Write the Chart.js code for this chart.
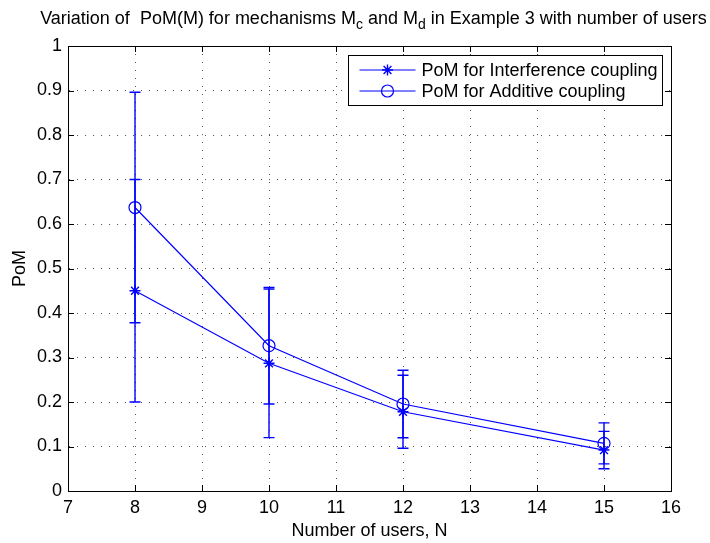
<!DOCTYPE html>
<html lang="en">
<head>
    <meta charset="UTF-8">
    <title>PoM vs number of users</title>
    <script src="https://cdn.jsdelivr.net/npm/chart.js"></script>
    <style>
        html, body {
            margin: 0;
            padding: 0;
            background: #fff;
        }
        .chart-container {
            width: 710px;
            height: 543px;
        }
    </style>
</head>
<body>

    <div class="chart-container">
        <canvas id="pomChart"></canvas>
    </div>

    <script>
        // values
        const users = [8, 10, 12, 15];
        const pomInterference = [0.45, 0.287, 0.178, 0.092];
        const errInterference = [0.25, 0.167, 0.082, 0.042];
        const pomAdditive = [0.637, 0.3265, 0.1955, 0.107];
        const errAdditive = [0.259, 0.131, 0.076, 0.046];

        const seriesLabels = ["PoM for Interference coupling", "PoM for Additive coupling"];
        const xTicks = [7, 8, 9, 10, 11, 12, 13, 14, 15, 16];
        const yTicks = [0, 0.1, 0.2, 0.3, 0.4, 0.5, 0.6, 0.7, 0.8, 0.9, 1];

        const BLUE = "#0000ff";
        const FONT = "'Liberation Sans', Arial, sans-serif";
        const FSIZE = 18;

        function toPoints(ys) {
            return users.map((u, i) => ({ x: u, y: ys[i] }));
        }

        // matlab style box, inner ticks, error bars, legend and title
        const matlabPlugin = {
            id: "matlabStyle",
            beforeDatasetsDraw(chart) {
                const { ctx, chartArea: a, scales } = chart;
                ctx.save();
                ctx.strokeStyle = "#000";
                ctx.lineWidth = 1;
                ctx.beginPath();
                xTicks.forEach(v => {
                    const px = Math.round(scales.x.getPixelForValue(v)) + 0.5;
                    ctx.moveTo(px, a.bottom); ctx.lineTo(px, a.bottom - 6);
                    ctx.moveTo(px, a.top); ctx.lineTo(px, a.top + 6);
                });
                yTicks.forEach(v => {
                    const py = Math.round(scales.y.getPixelForValue(v)) + 0.5;
                    ctx.moveTo(a.left, py); ctx.lineTo(a.left + 6, py);
                    ctx.moveTo(a.right, py); ctx.lineTo(a.right - 6, py);
                });
                ctx.stroke();
                ctx.strokeRect(Math.round(a.left) + 0.5, Math.round(a.top) + 0.5,
                    Math.round(a.right - a.left), Math.round(a.bottom - a.top));
                ctx.restore();
            },
            afterDatasetsDraw(chart) {
                const { ctx, scales } = chart;
                const bars = [[pomInterference, errInterference], [pomAdditive, errAdditive]];
                ctx.save();
                ctx.setLineDash([]);
                ctx.lineWidth = 1.4;
                ctx.strokeStyle = BLUE;
                bars.forEach(([vals, errs]) => {
                    users.forEach((u, i) => {
                        const px = Math.round(scales.x.getPixelForValue(u));
                        const lo = scales.y.getPixelForValue(vals[i] - errs[i]);
                        const hi = scales.y.getPixelForValue(vals[i] + errs[i]);
                        ctx.beginPath();
                        ctx.moveTo(px, lo); ctx.lineTo(px, hi);
                        ctx.moveTo(px - 5.5, lo); ctx.lineTo(px + 5.5, lo);
                        ctx.moveTo(px - 5.5, hi); ctx.lineTo(px + 5.5, hi);
                        ctx.stroke();
                    });
                });
                ctx.restore();
            },
            afterDraw(chart) {
                const { ctx, chartArea: a } = chart;
                ctx.save();

                // legend box in the upper right corner
                ctx.font = FSIZE + "px " + FONT;
                const textW = Math.max(...seriesLabels.map(t => ctx.measureText(t).width));
                const boxW = Math.round(11 + 56 + 6 + textW + 5);
                const boxH = 50;
                const bx = Math.round(a.right - 9 - boxW) + 0.5;
                const by = Math.round(a.top + 9) + 0.5;
                ctx.fillStyle = "#fff";
                ctx.fillRect(bx, by, boxW, boxH);
                ctx.strokeStyle = "#000";
                ctx.lineWidth = 1;
                ctx.strokeRect(bx, by, boxW, boxH);
                ctx.textBaseline = "middle";
                chart.data.datasets.forEach((ds, i) => {
                    const ry = Math.round(by + 14 + i * 21);
                    ctx.lineWidth = 1.2;
                    ctx.beginPath();
                    ctx.moveTo(bx + 11, ry); ctx.lineTo(bx + 67, ry);
                    ctx.strokeStyle = BLUE;
                    ctx.stroke();
                    ctx.strokeStyle = ds.pointBorderColor;
                    ctx.fillStyle = ds.pointBackgroundColor;
                    ctx.lineWidth = ds.pointBorderWidth;
                    Chart.helpers.drawPoint(ctx, {
                        pointStyle: ds.pointStyle,
                        radius: ds.pointRadius,
                        rotation: 0,
                        borderWidth: ds.pointBorderWidth
                    }, bx + 39, ry);
                    ctx.fillStyle = "#000";
                    ctx.fillText(ds.label, bx + 73, ry + 1);
                });

                // title with subscripts
                const parts = [
                    ["Variation of  PoM(M) for mechanisms M", false],
                    ["c", true],
                    [" and M", false],
                    ["d", true],
                    [" in Example 3 with number of users", false]
                ];
                const mainFont = FSIZE + "px " + FONT;
                const subFont = (FSIZE - 4) + "px " + FONT;
                ctx.textBaseline = "alphabetic";
                ctx.textAlign = "left";
                let total = 0;
                parts.forEach(([t, sub]) => {
                    ctx.font = sub ? subFont : mainFont;
                    total += ctx.measureText(t).width;
                });
                let tx = (a.left + a.right) / 2 + 4 - total / 2;
                const ty = 24;
                ctx.fillStyle = "#000";
                parts.forEach(([t, sub]) => {
                    ctx.font = sub ? subFont : mainFont;
                    ctx.fillText(t, tx, sub ? ty + 5 : ty);
                    tx += ctx.measureText(t).width;
                });
                ctx.restore();
            }
        };

        const ctx = document.getElementById("pomChart").getContext("2d");
        const chartInstance = new Chart(ctx, {
            type: "line",
            data: {
                datasets: [{
                    label: seriesLabels[0],
                    data: toPoints(pomInterference),
                    borderColor: BLUE,
                    borderWidth: 1.2,
                    pointStyle: "star",
                    pointRadius: 5.5,
                    pointBorderColor: BLUE,
                    pointBackgroundColor: BLUE,
                    pointBorderWidth: 1.4,
                    tension: 0
                }, {
                    label: seriesLabels[1],
                    data: toPoints(pomAdditive),
                    borderColor: BLUE,
                    borderWidth: 1.2,
                    pointStyle: "circle",
                    pointRadius: 6,
                    pointBorderColor: BLUE,
                    pointBackgroundColor: "rgba(0,0,0,0)",
                    pointBorderWidth: 1.2,
                    tension: 0
                }]
            },
            options: {
                responsive: true,
                maintainAspectRatio: false,
                animation: false,
                layout: {
                    padding: { top: 46, right: 39, left: 0, bottom: 0 }
                },
                plugins: {
                    legend: { display: false },
                    title: { display: false },
                    tooltip: { enabled: false }
                },
                scales: {
                    x: {
                        type: "linear",
                        min: 7,
                        max: 16,
                        afterFit: s => { s.height = 52; },
                        afterBuildTicks: s => { s.ticks = xTicks.map(v => ({ value: v })); },
                        ticks: {
                            color: "#000",
                            font: { family: FONT, size: FSIZE },
                            padding: 6,
                            maxRotation: 0,
                            autoSkip: false
                        },
                        grid: { color: "#555", drawTicks: false },
                        border: { display: true, color: "#000", dash: [1, 7] },
                        title: {
                            display: true,
                            text: "Number of users, N",
                            color: "#000",
                            font: { family: FONT, size: FSIZE },
                            padding: { top: 0, bottom: 1 }
                        }
                    },
                    y: {
                        min: 0,
                        max: 1,
                        afterFit: s => { s.width = 68; },
                        afterBuildTicks: s => { s.ticks = yTicks.map(v => ({ value: v })); },
                        ticks: {
                            color: "#000",
                            font: { family: FONT, size: FSIZE },
                            padding: 6,
                            autoSkip: false,
                            callback: v => String(Math.round(v * 10) / 10)
                        },
                        grid: { color: "#555", drawTicks: false },
                        border: { display: true, color: "#000", dash: [1, 7] },
                        title: {
                            display: true,
                            text: "PoM",
                            color: "#000",
                            font: { family: FONT, size: FSIZE },
                            padding: { top: 9, bottom: 0 }
                        }
                    }
                }
            },
            plugins: [matlabPlugin]
        });
    </script>

</body>
</html>
